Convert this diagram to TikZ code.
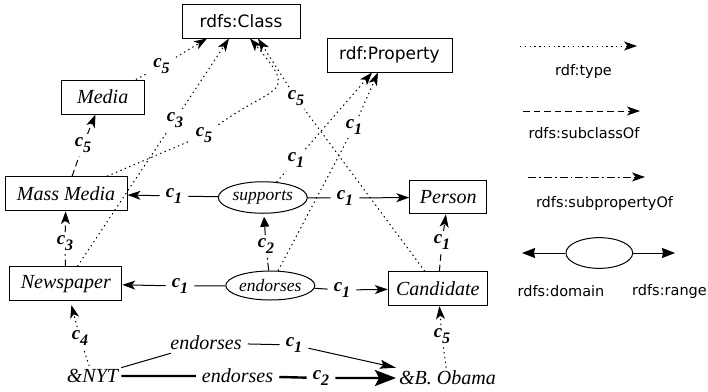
\documentclass[tikz,border=0pt]{standalone}
\usepackage{fontspec}
\setmainfont{Liberation Serif}
\newfontfamily\sansfam{DejaVu Sans}
\usetikzlibrary{arrows.meta,shapes.geometric,calc}
\newcommand{\cc}[1]{\fontsize{19}{22}\selectfont\bfseries\itshape c\raisebox{-5.5pt}{\fontsize{16}{19}\selectfont #1}}
\begin{document}
\begin{tikzpicture}[x=1pt,y=-1pt,
  every node/.style={inner sep=0pt},
  ibox/.style={draw,line width=1pt,minimum height=34pt,font=\fontsize{20}{24}\selectfont\itshape},
  sbox/.style={draw,line width=1pt,minimum height=34pt,font=\sansfam\fontsize{17}{20}\selectfont},
  pnode/.style={draw,ellipse,line width=1pt,font=\fontsize{17.5}{20}\selectfont\itshape},
  clab/.style={inner xsep=6pt,inner ysep=3.5pt},
  wlab/.style={inner xsep=6pt,inner ysep=3pt,font=\fontsize{20}{24}\selectfont\itshape},
  itxt/.style={inner sep=3pt,font=\fontsize{20}{24}\selectfont\itshape},
  ltxt/.style={font=\sansfam\fontsize{14.5}{17}\selectfont},
  conn/.style={line width=1pt,-{Stealth[length=13pt,width=9pt,inset=3.5pt]}},
  typ/.style={conn,dash pattern=on 1.4pt off 3.4pt},
  scl/.style={conn,dash pattern=on 6.5pt off 4pt},
  spr/.style={conn,dash pattern=on 8pt off 3pt on 1.8pt off 3pt},
  dom/.style={line width=1pt,-{Stealth[length=13pt,width=10pt,inset=1pt]}},
  thickc/.style={line width=2.4pt,-{Stealth[length=21pt,width=16pt,inset=4pt]}},
]
\useasboundingbox (0,0) rectangle (708,391);

% main nodes
\node[sbox,minimum width=118pt] (class) at (241,21) {rdfs:Class};
\node[sbox,minimum width=125pt] (propn) at (389.5,55) {rdf:Property};
\node[ibox,minimum width=83pt] (media) at (102.7,97) {Media};
\node[ibox,minimum width=122pt] (mass) at (66,193.7) {Mass Media};
\node[ibox,minimum width=112pt] (news) at (65.8,283.7) {Newspaper};
\node[ibox,minimum width=77pt,minimum height=33pt] (person) at (448.3,197.3) {Person};
\node[ibox,minimum width=99pt] (cand) at (437.8,288.7) {Candidate};
\node[pnode,minimum width=89pt,minimum height=31.5pt] (sup) at (262.8,197.5) {supports};
\node[pnode,minimum width=89pt,minimum height=29pt] (endn) at (270.3,285.5) {endorses};
\node[itxt] (nyt) at (92.5,376) {\&NYT};
\node[itxt] (obama) at (447.5,378) {\&B. Obama};

% labels
\node[clab] (l1) at (161.5,66) {\cc{5}};
\node[clab] (l2) at (175,120) {\cc{3}};
\node[clab] (l3) at (204,135) {\cc{5}};
\node[clab] (l4) at (296,98) {\cc{5}};
\node[clab] (l5) at (296,160) {\cc{1}};
\node[clab] (l6) at (354,127) {\cc{1}};
\node[clab] (l7) at (174,196) {\cc{1}};
\node[clab] (l8) at (345,198) {\cc{1}};
\node[clab] (l9) at (180,286) {\cc{1}};
\node[clab] (l10) at (342,290) {\cc{1}};
\node[clab] (l11) at (266,246) {\cc{2}};
\node[clab] (l12) at (83,145) {\cc{5}};
\node[clab] (l13) at (65,243) {\cc{3}};
\node[clab] (l14) at (442,242) {\cc{1}};
\node[clab] (l15) at (442,336) {\cc{5}};
\node[clab] (l16) at (80,338) {\cc{4}};
\node[wlab] (u1) at (206,343) {endorses};
\node[clab] (u2) at (294,345) {\cc{1}};
\node[wlab] (b1) at (237.5,376) {endorses};
\node[clab] (b2) at (321,378) {\cc{2}};

% rdf:type edges
\draw[typ] (media) -- (l1) -- ($(class.south)+(-34,0)$);
\draw[typ] (news) -- (l2) -- ($(class.south)+(-12,0)$);
\draw[typ] (mass) -- (l3) .. controls (277,83) and (299,96) .. ($(class.south)+(9,0)$);
\draw[typ] (cand) -- (l4) -- ($(class.south)+(17,0)$);
\draw[typ] (sup) -- (l5) -- ($(propn.south)+(-17.5,0)$);
\draw[typ] (endn) -- (l6) -- ($(propn.south)+(-11.5,0)$);
\draw[typ,shorten >=4pt] (nyt) -- (l16) -- (news);
\draw[typ] (obama) -- (l15) -- (cand);

% domain / range
\draw[conn] (sup) -- (l7) -- (mass);
\draw[conn] (sup) -- (l8) -- (person);
\draw[conn] (endn) -- (l9) -- (news);
\draw[conn] (endn) -- (l10) -- (cand);

% subproperty
\draw[spr,-{Stealth[length=10pt,width=9pt,inset=0pt]},shorten >=3pt] (endn) -- (l11) -- (sup);

% subclass
\draw[scl] (mass) -- (l12) -- (media);
\draw[scl] (news) -- (l13) -- (mass);
\draw[scl] (cand) -- (l14) -- (person);

% instance edges
\draw[line width=1pt,-{Stealth[length=16pt,width=9pt,inset=3pt]}] (nyt) -- (u1) -- (u2) -- (obama.north west);
\draw[thickc] (nyt) -- (b1) -- (b2) -- (obama);

% legend
\coordinate (t1) at (520,46);
\coordinate (t2) at (637,46);
\draw[typ] (t1) -- (t2);
\node[ltxt] (tl) at (583.5,71) {rdf:type};
\coordinate (s1) at (523,111);
\coordinate (s2) at (640,111);
\draw[scl] (s1) -- (s2);
\node[ltxt] (sl) at (584,133.5) {rdfs:subclassOf};
\coordinate (p1) at (528,177);
\coordinate (p2) at (645,177);
\draw[spr] (p1) -- (p2);
\node[ltxt] (pl) at (604.5,203) {rdfs:subpropertyOf};
\node[draw,ellipse,line width=1pt,minimum width=66.7pt,minimum height=30.7pt] (lege) at (599.3,253) {};
\coordinate (d1) at (522,253);
\coordinate (r1) at (675,253);
\draw[dom] (lege) -- (d1);
\draw[dom] (lege) -- (r1);
\node[ltxt] (dl) at (561,291) {rdfs:domain};
\node[ltxt] (rl) at (669.5,291) {rdfs:range};
\end{tikzpicture}
\end{document}
